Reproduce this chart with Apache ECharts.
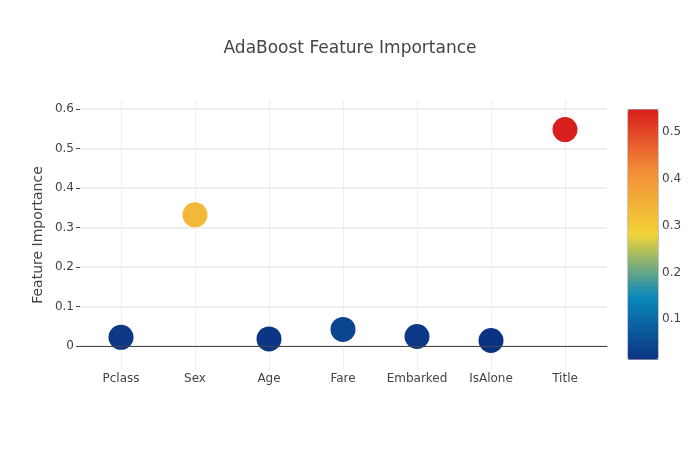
<!DOCTYPE html>
<html>
<head>
<meta charset="utf-8">
<script src="https://cdn.jsdelivr.net/npm/echarts@6/dist/echarts.min.js"></script>
<style>html,body{margin:0;padding:0;background:#fff}#c{width:700px;height:450px}</style>
</head>
<body>
<div id="c"></div>
<script>
const categories = ['Pclass', 'Sex', 'Age', 'Fare', 'Embarked', 'IsAlone', 'Title'];
const importance = [0.022, 0.332, 0.018, 0.042, 0.024, 0.014, 0.548];
const yTicks = [0, 0.1, 0.2, 0.3, 0.4, 0.5, 0.6];
const colorbarTicks = [0.1, 0.2, 0.3, 0.4, 0.5];
const portland = ['rgb(12,51,131)', 'rgb(10,136,186)', 'rgb(242,211,56)', 'rgb(242,143,56)', 'rgb(217,30,30)'];

const FONT = '"DejaVu Sans", Verdana, sans-serif';
const vMin = Math.min(...importance), vMax = Math.max(...importance);
// scale: grid0 spans y 109..346 for 0..0.6
const pxPerUnit = (346 - 109) / 0.6;
const g1Max = (346 - 100) / pxPerUnit;
const g1Min = -(370 - 346) / pxPerUnit;

const chart = echarts.init(document.getElementById('c'), null, {renderer: 'canvas'});
chart.setOption({
  animation: false,
  backgroundColor: '#fff',
  title: {
    text: 'AdaBoost Feature Importance',
    left: 'center', top: 35,
    textStyle: {fontFamily: FONT, fontSize: 17, fontWeight: 'normal', color: '#444'}
  },
  grid: [
    {left: 80, right: 93, top: 109, bottom: 104},
    {left: 121, right: 135, top: 100, bottom: 80},
    {left: 628, width: 30, top: 109.5, height: 250}
  ],
  xAxis: [
    {gridIndex: 0, type: 'category', data: categories, boundaryGap: false,
     axisLine: {show: true, lineStyle: {color: '#444', width: 1}},
     axisTick: {show: false}, axisLabel: {show: false}, splitLine: {show: false}, z: 5},
    {gridIndex: 1, type: 'category', data: categories, boundaryGap: false,
     axisLine: {show: false}, axisTick: {show: false},
     axisLabel: {color: '#444', fontSize: 12, fontFamily: FONT, margin: 3, interval: 0},
     splitLine: {show: true, interval: 0, lineStyle: {color: '#eee', width: 1}}},
    {gridIndex: 2, type: 'value', show: false}
  ],
  yAxis: [
    {gridIndex: 0, type: 'value', min: yTicks[0], max: yTicks[yTicks.length - 1], interval: 0.1,
     axisLine: {show: false},
     axisTick: {show: true, length: 4, lineStyle: {color: '#444'}},
     axisLabel: {color: '#444', fontSize: 12, fontFamily: FONT, margin: 6,
                 formatter: v => (Math.round(v * 10) / 10).toString()},
     splitLine: {show: true, lineStyle: {color: '#eeeeee', width: 2}}},
    {gridIndex: 1, type: 'value', min: g1Min, max: g1Max, show: true,
     name: 'Feature Importance', nameLocation: 'middle', nameGap: 76,
     nameTextStyle: {color: '#444', fontSize: 14, fontFamily: FONT},
     axisLine: {show: false}, axisTick: {show: false}, axisLabel: {show: false},
     splitLine: {show: false}},
    {gridIndex: 2, type: 'value', min: vMin, max: vMax, position: 'right',
     axisLine: {show: false}, axisTick: {show: false}, splitLine: {show: false},
     axisLabel: {customValues: colorbarTicks, color: '#444', fontSize: 12, fontFamily: FONT, margin: 4}}
  ],
  visualMap: {
    type: 'continuous', min: vMin, max: vMax, seriesIndex: 0, dimension: 1,
    inRange: {color: portland},
    calculable: false, hoverLink: false,
    left: 627.5, top: 109, itemWidth: 30, itemHeight: 250,
    padding: 0, borderColor: '#888', borderWidth: 1,
    text: null, textGap: 0
  },
  series: [{
    type: 'scatter', xAxisIndex: 1, yAxisIndex: 1,
    data: importance, symbolSize: 25, z: 3,
    itemStyle: {opacity: 1}
  }]
});
</script>
</body>
</html>
